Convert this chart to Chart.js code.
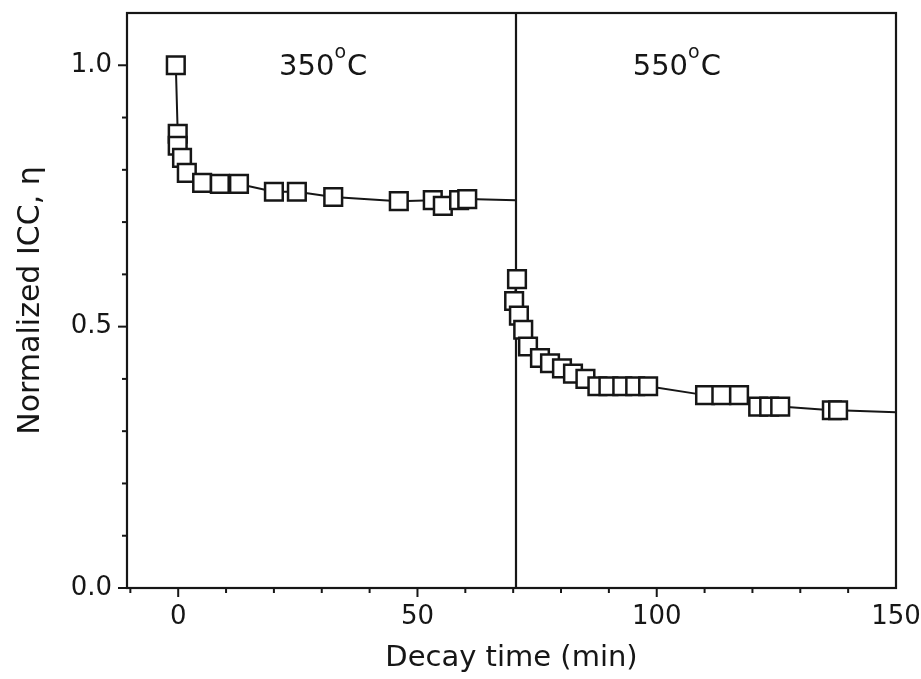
<!DOCTYPE html>
<html>
<head>
<meta charset="utf-8">
<script src="https://cdn.jsdelivr.net/npm/chart.js@4.4.1/dist/chart.umd.min.js"></script>
<style>
  html, body { margin: 0; padding: 0; background: #ffffff; }
  #wrap { width: 921px; height: 679px; }
</style>
</head>
<body>
<div id="wrap"><canvas id="c" width="921" height="679"></canvas></div>
<script>
// Normalized ICC decay, first at 350 °C then at 550 °C
const time350 = [-0.5, -0.1, -0.1, 0.8, 1.8, 5.0, 8.7, 12.7, 20.0, 24.8, 32.4, 46.1, 53.2, 55.3, 58.7, 60.4];
const eta350  = [1.000, 0.869, 0.846, 0.823, 0.794, 0.775, 0.773, 0.773, 0.758, 0.758, 0.748, 0.740, 0.742, 0.731, 0.742, 0.744];

const time550 = [70.8, 70.2, 71.2, 72.1, 73.1, 75.6, 77.7, 80.2, 82.5, 85.1, 87.6, 89.9, 92.8, 95.5, 98.2,
                 110.1, 113.5, 117.2, 121.2, 123.5, 125.8, 136.6, 137.9];
const eta550  = [0.591, 0.549, 0.521, 0.494, 0.462, 0.440, 0.430, 0.420, 0.410, 0.400, 0.386, 0.386, 0.386, 0.386, 0.386,
                 0.369, 0.369, 0.369, 0.347, 0.347, 0.347, 0.340, 0.340];

// where each curve runs on to
const tail350 = [70.5, 0.742];
const tail550 = [150, 0.336];

// temperature switch
const switchTime = 70.5;

const xTickValues = [-10, 0, 10, 20, 30, 40, 50, 60, 70, 80, 90, 100, 110, 120, 130, 140, 150];
const xTickLabels = [0, 50, 100, 150];
const yTickValues = [0, 0.1, 0.2, 0.3, 0.4, 0.5, 0.6, 0.7, 0.8, 0.9, 1.0];
const yTickLabels = [0, 0.5, 1.0];

const tempTexts = ['350', '550'];
const tempTextPos = [[30.3, 0.995], [104.2, 0.995]];

const INK = '#161616';
const FONT = "'DejaVu Sans', sans-serif";

const toPts = (ts, vs) => ts.map((t, i) => ({ x: t, y: vs[i] }));
const isLabelled = (v, list) => list.some(l => Math.abs(l - v) < 1e-6);

const framePlugin = {
  id: 'frame',
  beforeDatasetsDraw(chart) {
    const { ctx, chartArea: a, scales: { x } } = chart;
    ctx.save();
    ctx.strokeStyle = INK;
    ctx.lineWidth = 2.2;
    // divider between the two temperatures
    const xs = Math.round(x.getPixelForValue(switchTime));
    ctx.beginPath();
    ctx.moveTo(xs, a.top);
    ctx.lineTo(xs, a.bottom);
    ctx.stroke();
    ctx.restore();
  },
  afterDraw(chart) {
    const { ctx, chartArea: a, scales: { x, y } } = chart;
    ctx.save();
    ctx.strokeStyle = INK;
    ctx.lineWidth = 2.2;
    ctx.strokeRect(a.left, a.top, a.right - a.left, a.bottom - a.top);
    // tick marks, pointing outwards
    ctx.lineWidth = 2;
    x.ticks.forEach(t => {
      const px = x.getPixelForValue(t.value);
      if (px < a.left + 1 || px > a.right - 1) return;
      const len = isLabelled(t.value, xTickLabels) ? 9 : 5;
      ctx.beginPath();
      ctx.moveTo(px, a.bottom);
      ctx.lineTo(px, a.bottom + len);
      ctx.stroke();
    });
    y.ticks.forEach(t => {
      const py = y.getPixelForValue(t.value);
      const len = isLabelled(t.value, yTickLabels) ? 9 : 5;
      ctx.beginPath();
      ctx.moveTo(a.left, py);
      ctx.lineTo(a.left - len, py);
      ctx.stroke();
    });
    // temperature labels
    ctx.fillStyle = INK;
    ctx.textBaseline = 'middle';
    ctx.textAlign = 'left';
    tempTexts.forEach((txt, i) => {
      const cx = x.getPixelForValue(tempTextPos[i][0]);
      const cy = y.getPixelForValue(tempTextPos[i][1]);
      ctx.font = `29px ${FONT}`;
      const wNum = ctx.measureText(txt).width;
      const wC = ctx.measureText('C').width;
      ctx.font = `19px ${FONT}`;
      const wDeg = ctx.measureText('o').width;
      const total = wNum + wDeg + wC + 1;
      const left = cx - total / 2;
      ctx.font = `29px ${FONT}`;
      ctx.fillText(txt, left, cy);
      ctx.font = `19px ${FONT}`;
      ctx.fillText('o', left + wNum, cy - 15);
      ctx.font = `29px ${FONT}`;
      ctx.fillText('C', left + wNum + wDeg + 1, cy);
    });
    ctx.restore();
  }
};

new Chart(document.getElementById('c'), {
  type: 'scatter',
  data: {
    datasets: [
      {
        label: '350 line',
        data: [...toPts(time350, eta350), { x: tail350[0], y: tail350[1] }],
        showLine: true,
        borderColor: INK,
        borderWidth: 2,
        pointRadius: 0,
        order: 2
      },
      {
        label: '550 line',
        data: [...toPts(time550, eta550), { x: tail550[0], y: tail550[1] }],
        showLine: true,
        borderColor: INK,
        borderWidth: 2,
        pointRadius: 0,
        order: 2
      },
      {
        label: '350 °C',
        data: toPts(time350, eta350),
        showLine: false,
        pointStyle: 'rect',
        pointRadius: 12.5,
        pointBorderWidth: 2.5,
        pointBorderColor: INK,
        pointBackgroundColor: '#ffffff',
        order: 1
      },
      {
        label: '550 °C',
        data: toPts(time550, eta550),
        showLine: false,
        pointStyle: 'rect',
        pointRadius: 12.5,
        pointBorderWidth: 2.5,
        pointBorderColor: INK,
        pointBackgroundColor: '#ffffff',
        order: 1
      }
    ]
  },
  options: {
    responsive: false,
    animation: false,
    layout: { autoPadding: false, padding: { top: 13, right: 25, left: 0, bottom: 0 } },
    plugins: { legend: { display: false }, tooltip: { enabled: false } },
    scales: {
      x: {
        type: 'linear',
        min: -10.7,
        max: 150,
        afterBuildTicks: s => { s.ticks = xTickValues.map(v => ({ value: v })); },
        afterFit: s => { s.height = 91; s.paddingLeft = 0; s.paddingRight = 0; },
        grid: { display: false, drawTicks: false },
        border: { display: false },
        ticks: {
          color: INK,
          padding: 14,
          maxRotation: 0,
          autoSkip: false,
          font: { family: FONT, size: 26 },
          callback: v => isLabelled(v, xTickLabels) ? String(v) : ''
        },
        title: {
          display: true,
          text: 'Decay time (min)',
          color: INK,
          font: { family: FONT, size: 29 },
          padding: { top: 0, bottom: 3 }
        }
      },
      y: {
        type: 'linear',
        min: 0,
        max: 1.1,
        afterBuildTicks: s => { s.ticks = yTickValues.map(v => ({ value: v })); },
        afterFit: s => { s.width = 127; s.paddingTop = 0; s.paddingBottom = 0; },
        grid: { display: false, drawTicks: false },
        border: { display: false },
        ticks: {
          color: INK,
          padding: 15,
          autoSkip: false,
          font: { family: FONT, size: 26 },
          callback: v => isLabelled(v, yTickLabels) ? v.toFixed(1) : ''
        },
        title: {
          display: true,
          text: 'Normalized ICC, η',
          color: INK,
          font: { family: FONT, size: 30 },
          padding: { top: 13, bottom: 0 }
        }
      }
    }
  },
  plugins: [framePlugin]
});
</script>
</body>
</html>
